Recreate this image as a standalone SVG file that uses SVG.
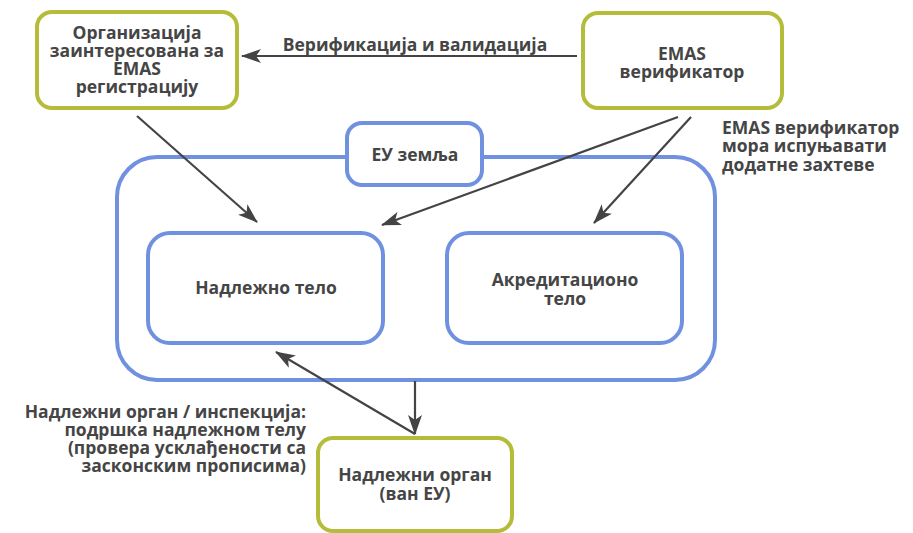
<svg xmlns="http://www.w3.org/2000/svg" width="913" height="533" viewBox="0 0 913 533">
  <defs>
    <marker id="arrow" viewBox="0 0 20 14" refX="19" refY="7" markerWidth="20" markerHeight="14" markerUnits="userSpaceOnUse" orient="auto">
      <path d="M0,0 L20,7 L0,14 L5,7 Z" fill="#444"/>
    </marker>
    <style>
      .olive { fill: #fff; stroke: #b4bc3a; stroke-width: 4; }
      .blue { fill: #fff; stroke: #7090e0; stroke-width: 4; }
      .lbl { font-family: "Open Sans", "Liberation Sans", sans-serif; font-weight: bold; font-size: 17.5px; fill: #454545; }
      .mid { text-anchor: middle; }
      .end { text-anchor: end; }
      .conn line { stroke: #444; stroke-width: 2.2; fill: none; }
    </style>
  </defs>
  <rect width="913" height="533" fill="#fff"/>

  <!-- EU container -->
  <g id="eu">
    <rect class="blue" x="117" y="157" width="598" height="223" rx="40"/>
    <rect class="blue" x="347" y="123" width="135" height="62" rx="15"/>
    <text class="lbl mid" x="415" y="161">ЕУ земља</text>
  </g>

  <g id="org">
    <rect class="olive" x="37" y="12" width="200" height="96" rx="15"/>
    <text class="lbl mid" x="137" y="39">Организација</text>
    <text class="lbl mid" x="137" y="57">заинтересована за</text>
    <text class="lbl mid" x="137" y="75">EMAS</text>
    <text class="lbl mid" x="137" y="93">регистрацију</text>
  </g>

  <g id="verifier">
    <rect class="olive" x="583" y="13" width="199" height="95" rx="15"/>
    <text class="lbl mid" x="682" y="60">EMAS</text>
    <text class="lbl mid" x="682" y="78">верификатор</text>
  </g>

  <g id="competent-body">
    <rect class="blue" x="148" y="233" width="235" height="110" rx="22"/>
    <text class="lbl mid" x="266" y="294">Надлежно тело</text>
  </g>

  <g id="accreditation-body">
    <rect class="blue" x="447" y="233" width="235" height="110" rx="22"/>
    <text class="lbl mid" x="565" y="286">Акредитационо</text>
    <text class="lbl mid" x="565" y="305">тело</text>
  </g>

  <g id="authority">
    <rect class="olive" x="318" y="438" width="194" height="93" rx="15"/>
    <text class="lbl mid" x="415" y="481">Надлежни орган</text>
    <text class="lbl mid" x="415" y="500">(ван ЕУ)</text>
  </g>

  <!-- connectors -->
  <g id="connectors" class="conn">
    <line x1="577" y1="56" x2="242" y2="56" marker-end="url(#arrow)"/>
    <line x1="137" y1="116" x2="257" y2="222" marker-end="url(#arrow)"/>
    <line x1="678" y1="117" x2="382" y2="225" marker-end="url(#arrow)"/>
    <line x1="691" y1="117" x2="594" y2="223" marker-end="url(#arrow)"/>
    <line x1="415" y1="381" x2="415" y2="434" marker-end="url(#arrow)"/>
    <line x1="415" y1="434" x2="276" y2="352" marker-end="url(#arrow)"/>
  </g>

  <!-- free labels -->
  <g id="labels">
    <text class="lbl mid" x="415" y="51">Верификација и валидација</text>
    <text class="lbl" x="722" y="134">EMAS верификатор</text>
    <text class="lbl" x="722" y="152">мора испуњавати</text>
    <text class="lbl" x="722" y="171">додатне захтеве</text>
    <text class="lbl end" x="306" y="418">Надлежни орган / инспекција:</text>
    <text class="lbl end" x="306" y="436">подршка надлежном телу</text>
    <text class="lbl end" x="306" y="454">(провера усклађености са</text>
    <text class="lbl end" x="306" y="472">засконским прописима)</text>
  </g>
</svg>
